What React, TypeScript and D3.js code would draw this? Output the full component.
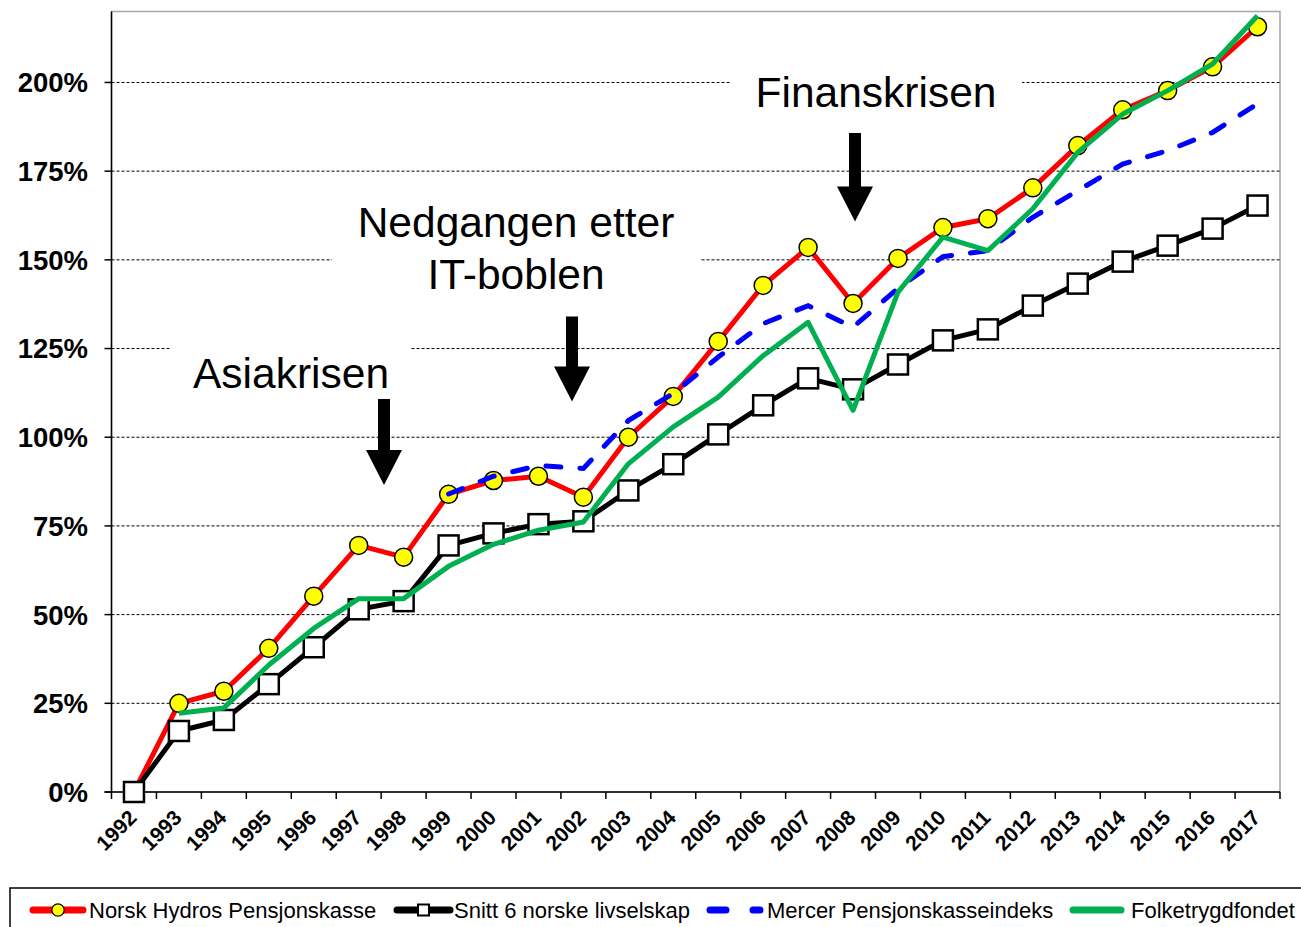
import { useEffect, useRef } from 'react'
import * as d3 from 'd3'

const years = ['1992', '1993', '1994', '1995', '1996', '1997', '1998', '1999', '2000', '2001', '2002', '2003', '2004',
  '2005', '2006', '2007', '2008', '2009', '2010', '2011', '2012', '2013', '2014', '2015', '2016', '2017']

// Norsk Hydros Pensjonskasse (accumulated return, %)
const hydro = [0, 25, 28.4, 40.5, 55.2, 69.5, 66.2, 83.9, 87.8, 89, 83.1, 100, 111.5, 127, 142.8, 153.5,
  137.7, 150.4, 159.1, 161.6, 170.3, 182.2, 192.3, 197.7, 204.4, 215.7]
// Snitt 6 norske livselskap
const snitt = [0, 17.2, 20.3, 30.4, 40.8, 51.5, 53.8, 69.5, 72.9, 75.5, 76.3, 85, 92.4, 100.8, 109, 116.6,
  113.5, 120.5, 127.3, 130.4, 137.1, 143.3, 149.5, 154, 158.8, 165.3]
// Mercer Pensjonskasseindeks (starts 1999)
const mercer = [null, null, null, null, null, null, null, 84, 89, 92, 91.2, 104.7, 112.3, 122.6, 132, 137.1,
  131, 142, 150.9, 152.6, 162, 169.5, 177, 180.8, 185.9, 194]
// Folketrygdfondet (starts 1993)
const folk = [null, 22.2, 23.7, 35.8, 46.1, 54.5, 54.5, 63.6, 69.8, 73.8, 76.1, 92.5, 102.9, 111.3, 123, 132.4,
  107.6, 140.9, 156.4, 152.6, 164.4, 180.3, 191.1, 197.7, 205.2, 218.8]

const yTicks = [0, 25, 50, 75, 100, 125, 150, 175, 200]

const FONT = '"Liberation Sans", Arial, sans-serif'

export default function App() {
  const svgRef = useRef<SVGSVGElement>(null)

  useEffect(() => {
    if (!svgRef.current) return
    const svg = d3.select(svgRef.current)
    svg.selectAll('*').remove()

    const left = 111.5
    const right = 1280
    const top = 11.5
    const bottom = 792

    const x = d3.scaleBand<string>().domain(years).range([left, right])
    const cx = (yr: string) => (x(yr) || 0) + x.bandwidth() / 2
    const y = d3.scaleLinear().domain([0, 220]).range([bottom, top])

    // plot area frame (grey top/right)
    svg.append('rect')
      .attr('x', left).attr('y', top)
      .attr('width', right - left).attr('height', bottom - top)
      .attr('fill', 'white')
      .attr('stroke', '#a6a6a6')
      .attr('stroke-width', 1.5)

    // gridlines
    svg.append('g')
      .selectAll('line')
      .data(yTicks.filter(t => t > 0))
      .join('line')
      .attr('x1', left).attr('x2', right)
      .attr('y1', d => y(d)).attr('y2', d => y(d))
      .attr('stroke', '#000')
      .attr('stroke-width', 1)
      .attr('stroke-dasharray', '3,2')

    // white boxes behind annotations (they hide the gridlines)
    const boxes = [
      { x: 170, y: 338, w: 240, h: 62 },
      { x: 332, y: 196, w: 368, h: 104 },
      { x: 730, y: 62, w: 292, h: 60 },
    ]
    svg.append('g')
      .selectAll('rect')
      .data(boxes)
      .join('rect')
      .attr('x', d => d.x).attr('y', d => d.y)
      .attr('width', d => d.w).attr('height', d => d.h)
      .attr('fill', 'white')

    // annotation texts
    const notes = [
      { t: 'Asiakrisen', x: 291, y: 387.5 },
      { t: 'Nedgangen etter', x: 516, y: 237 },
      { t: 'IT-boblen', x: 516, y: 288.5 },
      { t: 'Finanskrisen', x: 876, y: 106.5 },
    ]
    svg.append('g')
      .selectAll('text')
      .data(notes)
      .join('text')
      .attr('x', d => d.x).attr('y', d => d.y)
      .attr('text-anchor', 'middle')
      .style('font-family', FONT)
      .style('font-size', '42.5px')
      .text(d => d.t)

    // arrows
    const arrows = [
      { x: 384, y0: 399, y1: 485 },
      { x: 572, y0: 316.5, y1: 401.5 },
      { x: 855, y0: 133, y1: 221.5 },
    ]
    const arrowPath = (a: { x: number; y0: number; y1: number }) => {
      const sw = 6
      const hw = 18
      const hh = 35
      const hy = a.y1 - hh
      return `M${a.x - sw},${a.y0}L${a.x + sw},${a.y0}L${a.x + sw},${hy}L${a.x + hw},${hy}L${a.x},${a.y1}` +
        `L${a.x - hw},${hy}L${a.x - sw},${hy}Z`
    }
    svg.append('g')
      .selectAll('path')
      .data(arrows)
      .join('path')
      .attr('d', arrowPath)
      .attr('fill', '#000')

    // axes
    svg.append('line')
      .attr('x1', left).attr('x2', left).attr('y1', top).attr('y2', bottom)
      .attr('stroke', '#000').attr('stroke-width', 1.5)
    svg.append('line')
      .attr('x1', left - 7).attr('x2', right).attr('y1', bottom).attr('y2', bottom)
      .attr('stroke', '#000').attr('stroke-width', 1.5)

    // y ticks + labels
    const yAxis = svg.append('g')
    yAxis.selectAll('line')
      .data(yTicks)
      .join('line')
      .attr('x1', left - 7).attr('x2', left)
      .attr('y1', d => y(d)).attr('y2', d => y(d))
      .attr('stroke', '#000').attr('stroke-width', 1.5)
    yAxis.selectAll('text')
      .data(yTicks)
      .join('text')
      .attr('x', 88)
      .attr('y', d => y(d))
      .attr('dy', '0.36em')
      .attr('text-anchor', 'end')
      .style('font-family', FONT)
      .style('font-size', '27.5px')
      .style('font-weight', 'bold')
      .text(d => `${d}%`)

    // x ticks at category boundaries
    const bounds = years.map(yr => x(yr) || 0).concat([right])
    svg.append('g')
      .selectAll('line')
      .data(bounds)
      .join('line')
      .attr('x1', d => d).attr('x2', d => d)
      .attr('y1', bottom).attr('y2', bottom + 7)
      .attr('stroke', '#000').attr('stroke-width', 1.5)

    svg.append('g')
      .selectAll('text')
      .data(years)
      .join('text')
      .attr('text-anchor', 'end')
      .attr('transform', d => `translate(${cx(d) + 4},${bottom + 27}) rotate(-45)`)
      .style('font-family', FONT)
      .style('font-size', '21px')
      .style('font-weight', 'bold')
      .text(d => d)

    // series
    const line = d3.line<number | null>()
      .defined(d => d !== null)
      .x((d, i) => cx(years[i]))
      .y(d => y(d as number))

    const pts = (arr: (number | null)[]) =>
      arr.map((v, i) => ({ v, yr: years[i] })).filter(p => p.v !== null) as { v: number; yr: string }[]

    // Norsk Hydros
    svg.append('path')
      .attr('d', line(hydro))
      .attr('fill', 'none')
      .attr('stroke', '#ff0000')
      .attr('stroke-width', 5)
      .attr('stroke-linejoin', 'round')
    svg.append('g')
      .selectAll('circle')
      .data(pts(hydro))
      .join('circle')
      .attr('cx', d => cx(d.yr)).attr('cy', d => y(d.v))
      .attr('r', 9)
      .attr('fill', '#ffff00')
      .attr('stroke', '#000')
      .attr('stroke-width', 1.5)

    // Snitt 6
    svg.append('path')
      .attr('d', line(snitt))
      .attr('fill', 'none')
      .attr('stroke', '#000')
      .attr('stroke-width', 5)
      .attr('stroke-linejoin', 'round')
    svg.append('g')
      .selectAll('rect')
      .data(pts(snitt))
      .join('rect')
      .attr('x', d => cx(d.yr) - 10).attr('y', d => y(d.v) - 10)
      .attr('width', 20).attr('height', 20)
      .attr('fill', '#fff')
      .attr('stroke', '#000')
      .attr('stroke-width', 2.5)

    // Mercer
    svg.append('path')
      .attr('d', line(mercer))
      .attr('fill', 'none')
      .attr('stroke', '#0000ff')
      .attr('stroke-width', 5)
      .attr('stroke-dasharray', '15,19')
      .attr('stroke-linecap', 'round')

    // Folketrygdfondet
    svg.append('path')
      .attr('d', line(folk))
      .attr('fill', 'none')
      .attr('stroke', '#00b050')
      .attr('stroke-width', 5)
      .attr('stroke-linejoin', 'round')

    // legend
    const lg = svg.append('g')
    lg.append('rect')
      .attr('x', 10).attr('y', 888)
      .attr('width', 1320).attr('height', 60)
      .attr('fill', 'white')
      .attr('stroke', '#000')
      .attr('stroke-width', 1.5)

    const ly = 910
    const items = [
      { label: 'Norsk Hydros Pensjonskasse', x0: 33, x1: 83, tx: 89, color: '#ff0000', marker: 'circle' },
      { label: 'Snitt 6 norske livselskap', x0: 397, x1: 450, tx: 454, color: '#000', marker: 'square' },
      { label: 'Mercer Pensjonskasseindeks', x0: 710, x1: 760, tx: 767, color: '#0000ff', marker: 'dash' },
      { label: 'Folketrygdfondet', x0: 1073, x1: 1121, tx: 1131, color: '#00b050', marker: 'none' },
    ]
    items.forEach(it => {
      const ln = lg.append('line')
        .attr('x1', it.x0).attr('x2', it.x1)
        .attr('y1', ly).attr('y2', ly)
        .attr('stroke', it.color)
        .attr('stroke-width', 7)
        .attr('stroke-linecap', 'round')
      if (it.marker === 'dash') ln.attr('stroke-dasharray', '16,27')
      const mx = (it.x0 + it.x1) / 2
      if (it.marker === 'circle') {
        lg.append('circle').attr('cx', mx).attr('cy', ly).attr('r', 6.2)
          .attr('fill', '#ffff00').attr('stroke', '#000').attr('stroke-width', 1.3)
      }
      if (it.marker === 'square') {
        lg.append('rect').attr('x', mx - 5.5).attr('y', ly - 5.5).attr('width', 11).attr('height', 11)
          .attr('fill', '#fff').attr('stroke', '#000').attr('stroke-width', 2)
      }
      lg.append('text')
        .attr('x', it.tx).attr('y', 918)
        .style('font-family', FONT)
        .style('font-size', '22px')
        .text(it.label)
    })
  }, [])

  return (
    <svg
      ref={svgRef}
      width={1301}
      height={927}
      style={{ position: 'absolute', left: 0, top: 0, background: 'white' }}
    />
  )
}
